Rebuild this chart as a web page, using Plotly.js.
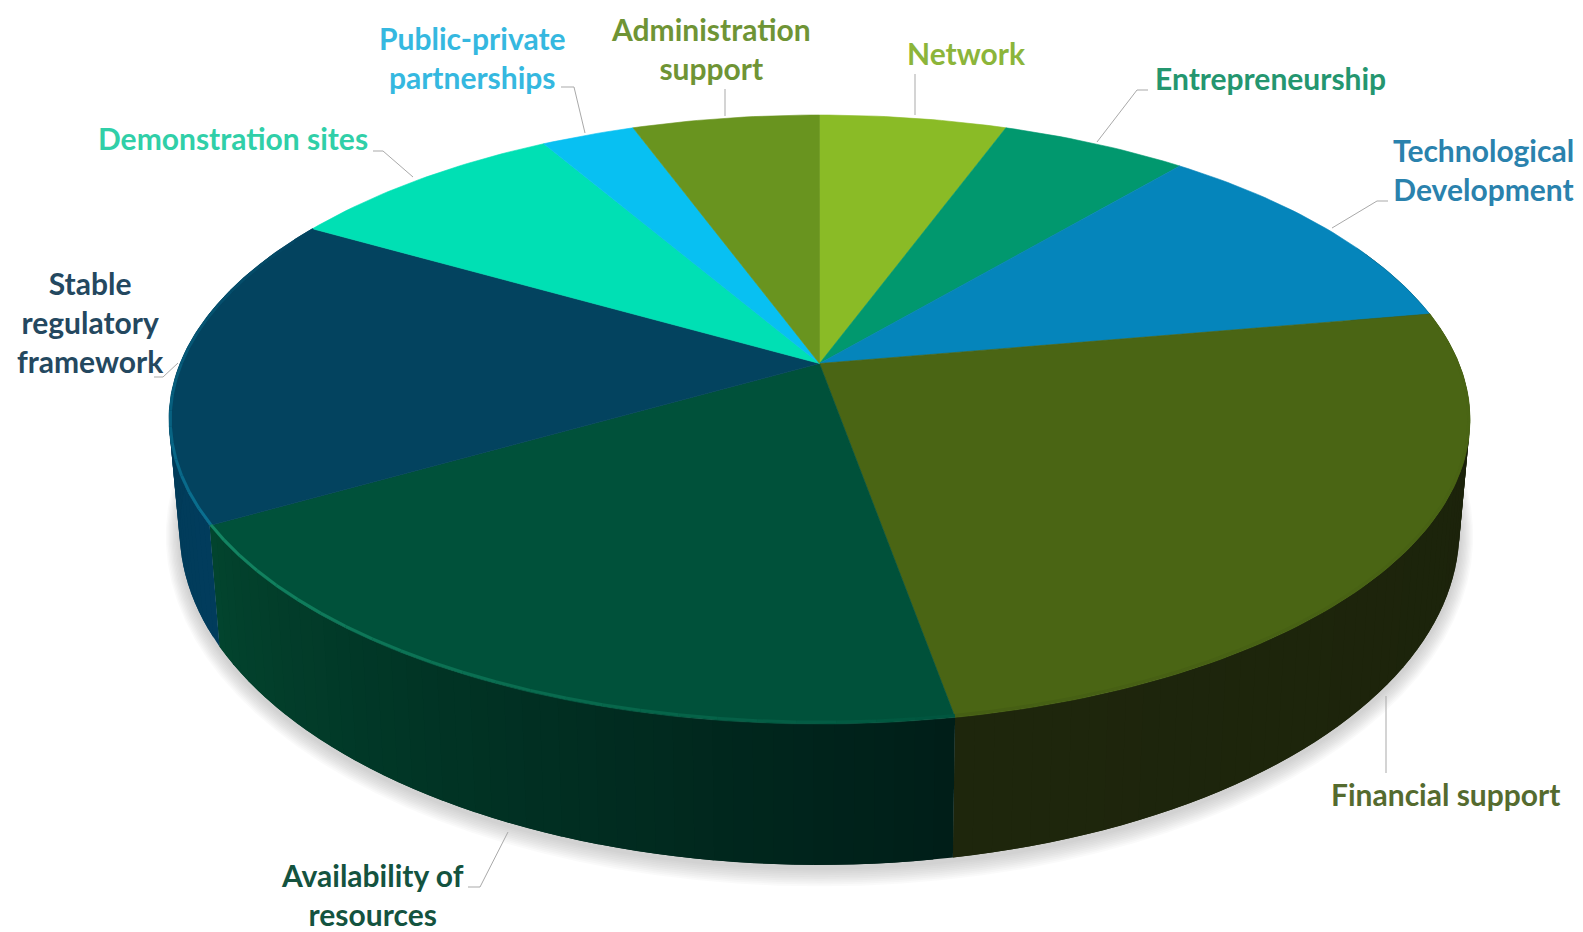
<!DOCTYPE html>
<html><head><meta charset="utf-8">
<script src="https://cdn.plot.ly/plotly-3.0.1.min.js"></script>
<style>html,body{margin:0;padding:0;background:#fff}#c{width:1583px;height:932px}</style>
</head><body><div id="c"></div>
<script>
const categories = ["Network","Entrepreneurship","Technological<br>Development","Financial support","Availability of<br>resources","Stable<br>regulatory<br>framework","Demonstration sites","Public-private<br>partnerships","Administration<br>support"];
const values = [2,2,4,9,7,6,3,1,2];
const topColors = ["#8abb26","#01986e","#0585bb","#4a6514","#00513a","#03435f","#00e0b4","#08c0f2","#69941f"];
const labelColors = ["#8cb53a","#24966f","#2a82ad","#556b2f","#14533f","#24485f","#30cfa8","#35b8e0","#6f9435"];
// wall shading [colour at start angle, colour at end angle]
const wallStart = [[27,34,10],[27,34,10],[27,34,10],[27,34,10],[0,30,24],[1,60,92],[1,58,92],[1,58,92],[1,58,92]];
const wallEnd   = [[27,34,10],[27,34,10],[27,34,10],[30,38,12],[2,68,46],[1,58,84],[1,58,92],[1,58,92],[1,58,92]];
const rimStart  = [[74,101,20],[74,101,20],[74,101,20],[74,101,20],[0,85,62],[10,112,145],[3,67,95],[3,67,95],[3,67,95]];
const rimEnd    = [[74,101,20],[74,101,20],[74,101,20],[70,95,20],[20,135,100],[3,67,95],[3,67,95],[3,67,95],[3,67,95]];
// label anchors (centre of text block)
const labelX = [966,1270,1483,1445,372,90,233,472,711];
const labelY = [53,78,169,794,894,322,138,57,48.5];
// leader lines
const leaderX = [[915,915],[1148,1137,1097],[1388,1377,1332],[1386,1386],[468,480,508],[154,163,178],[373,383,413],[561,574,585],[725,725]];
const leaderY = [[74,115],[90,90,142],[201,201,228],[696,773],[887,887,832],[377,377,363],[151,151,177],[87,87,133],[89,116]];

// projection of top and bottom circles
const topRing = {cx:819.5, cy:363.5, a:639.4, b:294.2, k:-0.184};
const botRing = {cx:819.5, cy:468.5, a:629,   b:323.5, k:-0.184};
function proj(r, deg){
  const t = deg*Math.PI/180, x = Math.sin(t), y = -Math.cos(t), d = 1+r.k*y;
  return [r.cx + r.a*x/d, r.cy + r.b*y/d];
}
function arc(r, a0, a1, step){
  const n = Math.max(1, Math.ceil(Math.abs(a1-a0)/step)), out = [];
  for(let i=0;i<=n;i++) out.push(proj(r, a0+(a1-a0)*i/n));
  return out;
}
const mix = (p,q,f)=>`rgb(${p.map((v,i)=>Math.round(v+(q[i]-v)*f)).join(",")})`;
const poly = (pts,color,extra)=>Object.assign({
  type:"scatter", mode:"lines", x:pts.map(p=>p[0]), y:pts.map(p=>p[1]),
  fill:"toself", fillcolor:color, line:{color:color,width:0.6}, hoverinfo:"skip", showlegend:false
},extra||{});

const traces = [];
// soft shadow under the disc
for(let i=10;i>=1;i--){
  const g = i*1.5;
  const ring = {cx:botRing.cx, cy:botRing.cy+3, a:botRing.a+g*0.9, b:botRing.b+g, k:botRing.k};
  const pts = arc(ring,0,360,3);
  traces.push({type:"scatter",mode:"lines",x:pts.map(p=>p[0]),y:pts.map(p=>p[1]),fill:"toself",
    fillcolor:"rgba(120,120,120,0.04)",line:{width:0},hoverinfo:"skip",showlegend:false});
}
const total = values.reduce((s,v)=>s+v,0);
const edges = [0];
values.forEach(v=>edges.push(edges[edges.length-1]+v/total*360));

// side wall: solid silhouette under each wedge, then shading bands that overlap one another
for(let w=0;w<values.length;w++){
  const a0 = Math.max(edges[w],65), a1 = Math.min(edges[w+1],295);
  if(a1<=a0) continue;
  const n = Math.ceil((a1-a0)/1.5);
  for(let i=0;i<n;i++){
    const s = a0+(a1-a0)*i/n;
    const e = Math.min(a1, a0+(a1-a0)*(i+1)/n + 1.5);
    const f = (s+(a1-a0)/n/2-edges[w])/(edges[w+1]-edges[w]);
    const pts = arc(topRing,s,e,1).concat(arc(botRing,e,s,1));
    pts.push(pts[0]);
    const c = mix(wallStart[w],wallEnd[w],f);
    traces.push({type:"scatter",mode:"lines",x:pts.map(p=>p[0]),y:pts.map(p=>p[1]),fill:"toself",
      fillcolor:c,line:{width:0},hoverinfo:"skip",showlegend:false});
  }
}
// top face wedges
for(let w=0;w<values.length;w++){
  const pts = [[topRing.cx,topRing.cy]].concat(arc(topRing,edges[w],edges[w+1],1));
  pts.push([topRing.cx,topRing.cy]);
  traces.push(poly(pts,topColors[w],{name:categories[w]}));
}
// bevel along the rim
for(let w=3;w<6;w++){
  const a0 = edges[w], a1 = edges[w+1], n = Math.ceil((a1-a0)/3);
  for(let i=0;i<n;i++){
    const s = a0+(a1-a0)*i/n, e = a0+(a1-a0)*(i+1)/n;
    const f = ((s+e)/2-a0)/(a1-a0);
    const inner = {cx:topRing.cx,cy:topRing.cy,a:topRing.a-1.2,b:topRing.b-1.6,k:topRing.k};
    const pts = arc(inner,s,e,1);
    traces.push({type:"scatter",mode:"lines",x:pts.map(p=>p[0]),y:pts.map(p=>p[1]),
      line:{color:mix(rimStart[w],rimEnd[w],f),width:3},hoverinfo:"skip",showlegend:false});
  }
}
// leader lines
leaderX.forEach((xs,i)=>traces.push({type:"scatter",mode:"lines",x:xs,y:leaderY[i],
  line:{color:"#a9a9a9",width:1},hoverinfo:"skip",showlegend:false}));

const annotations = categories.map((c,i)=>({
  xref:"x",yref:"y",x:labelX[i],y:labelY[i],text:"<b>"+c+"</b>",showarrow:false,
  xanchor:"center",yanchor:"middle",align:"center",
  font:{family:"Lato, Carlito, sans-serif",size:30,color:labelColors[i]}
}));
const hidden = {visible:false,fixedrange:true};
Plotly.newPlot("c",traces,{
  width:1583,height:932,margin:{l:0,r:0,t:0,b:0},showlegend:false,
  paper_bgcolor:"#fff",plot_bgcolor:"#fff",
  xaxis:Object.assign({range:[0,1583]},hidden),
  yaxis:Object.assign({range:[932,0]},hidden),
  annotations:annotations
},{displayModeBar:false,staticPlot:true});
</script></body></html>
